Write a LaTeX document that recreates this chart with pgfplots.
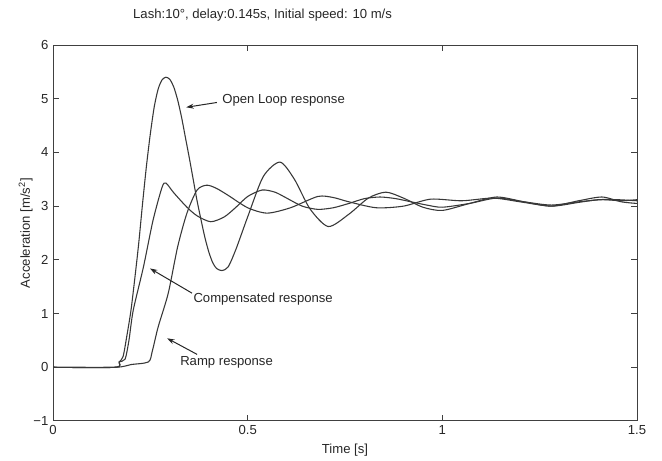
\documentclass[border=0pt]{standalone}
\usepackage{fontspec}
\setmainfont{Liberation Sans}
\usepackage{pgfplots}
\pgfplotsset{compat=1.18}
\usetikzlibrary{arrows.meta}
\definecolor{curve}{gray}{0.22}
\begin{document}
\fontsize{7.9}{9.5}\selectfont
\begin{tikzpicture}
\begin{axis}[
  scale only axis,
  width=350.4bp, height=225.6bp,
  xmin=0, xmax=1.5, ymin=-1, ymax=6,
  xtick={0,0.5,1,1.5}, xticklabels={0,0.5,1,1.5},
  ytick={-1,0,1,2,3,4,5,6}, yticklabels={−1,0,1,2,3,4,5,6},
  tick align=inside, tick pos=both,
  major tick length=3.6bp,
  axis line style={line width=0.6bp, black!75},
  every tick/.style={line width=0.6bp, black!75},
  tick label style={font=\fontsize{7.9}{9.5}\selectfont, text=black!85},
  xticklabel style={yshift=0bp},
  xlabel={Time [s]}, ylabel={Acceleration [m/s\textsuperscript{2}]},
  label style={font=\fontsize{7.9}{9.5}\selectfont, text=black!85},
  xlabel style={yshift=0bp},
  ylabel style={yshift=-5bp},
  clip=false,
]
\path (rel axis cs:-0.0908,1.1197) rectangle (rel axis cs:1.0428,-0.0957);

% Open loop response
\addplot[curve, line width=0.65bp, smooth, tension=0.45] coordinates {
(0,0) (0.16,0) (0.17,0.1) (0.18,0.2) (0.19,0.6) (0.20,1.05) (0.21,1.65)
(0.22,2.3) (0.23,3.05) (0.24,3.75) (0.25,4.35) (0.26,4.85) (0.27,5.18)
(0.28,5.35) (0.29,5.4) (0.30,5.36) (0.31,5.22) (0.32,4.98) (0.33,4.66)
(0.34,4.28) (0.35,3.9) (0.36,3.5) (0.37,3.1) (0.38,2.75) (0.39,2.42)
(0.40,2.15) (0.41,1.95) (0.42,1.84) (0.434,1.8) (0.45,1.87)
(0.47,2.2) (0.5,2.8)
(0.54,3.55) (0.583,3.82) (0.62,3.5) (0.66,2.95) (0.707,2.62) (0.76,2.85)
(0.81,3.15) (0.855,3.26) (0.9,3.15) (0.95,2.98) (1.0,2.92) (1.07,3.05)
(1.14,3.17) (1.21,3.08) (1.28,3.0) (1.35,3.1) (1.41,3.17) (1.46,3.08) (1.5,3.05)
};
% Compensated response
\addplot[curve, line width=0.65bp, smooth, tension=0.45] coordinates {
(0,0) (0.16,0) (0.17,0.1) (0.185,0.15) (0.195,0.5) (0.206,1.06) (0.232,1.86)
(0.257,2.74) (0.28,3.35) (0.29,3.43) (0.31,3.25) (0.344,2.98) (0.37,2.82)
(0.405,2.71) (0.44,2.8) (0.47,2.98) (0.5,3.18) (0.537,3.30) (0.57,3.26)
(0.6,3.15) (0.64,3.0) (0.68,2.94) (0.72,2.97) (0.76,3.05) (0.8,3.14)
(0.84,3.17) (0.88,3.14) (0.92,3.08) (0.96,3.02) (1.0,2.98) (1.07,3.05)
(1.14,3.15) (1.21,3.08) (1.28,3.02) (1.35,3.08) (1.41,3.12) (1.46,3.1) (1.5,3.12)
};
% Ramp response
\addplot[curve, line width=0.65bp, smooth, tension=0.45] coordinates {
(0,0) (0.16,0) (0.2,0.05) (0.245,0.1) (0.255,0.3) (0.27,0.75) (0.296,1.38)
(0.32,2.24) (0.344,2.87) (0.37,3.3) (0.395,3.39) (0.42,3.33) (0.45,3.2)
(0.5,2.97) (0.55,2.87) (0.61,2.97) (0.68,3.18) (0.72,3.16) (0.76,3.08)
(0.83,2.97) (0.9,3.0) (0.97,3.13) (1.05,3.1) (1.13,3.15) (1.2,3.08)
(1.28,3.0) (1.35,3.07) (1.4,3.12) (1.45,3.12) (1.5,3.1)
};

\node[anchor=west, inner sep=0pt, text=black!85] at (axis cs:0.205,6.55) {Lash:10°, delay:0.145s, Initial speed: 10 m/s};

\node[anchor=west, inner sep=0pt, text=black!85] at (axis cs:0.434,4.97) {Open Loop response};
\draw[-{Stealth[length=4.5bp,width=3bp]}, line width=0.6bp, black!85] (axis cs:0.421,4.93) -- (axis cs:0.342,4.84);

\node[anchor=west, inner sep=0pt, text=black!85] at (axis cs:0.36,1.27) {Compensated response};
\draw[-{Stealth[length=4.5bp,width=3bp]}, line width=0.6bp, black!85] (axis cs:0.357,1.38) -- (axis cs:0.249,1.84);

\node[anchor=west, inner sep=0pt, text=black!85] at (axis cs:0.326,0.09) {Ramp response};
\draw[-{Stealth[length=4.5bp,width=3bp]}, line width=0.6bp, black!85] (axis cs:0.37,0.24) -- (axis cs:0.293,0.54);
\end{axis}
\end{tikzpicture}
\end{document}
